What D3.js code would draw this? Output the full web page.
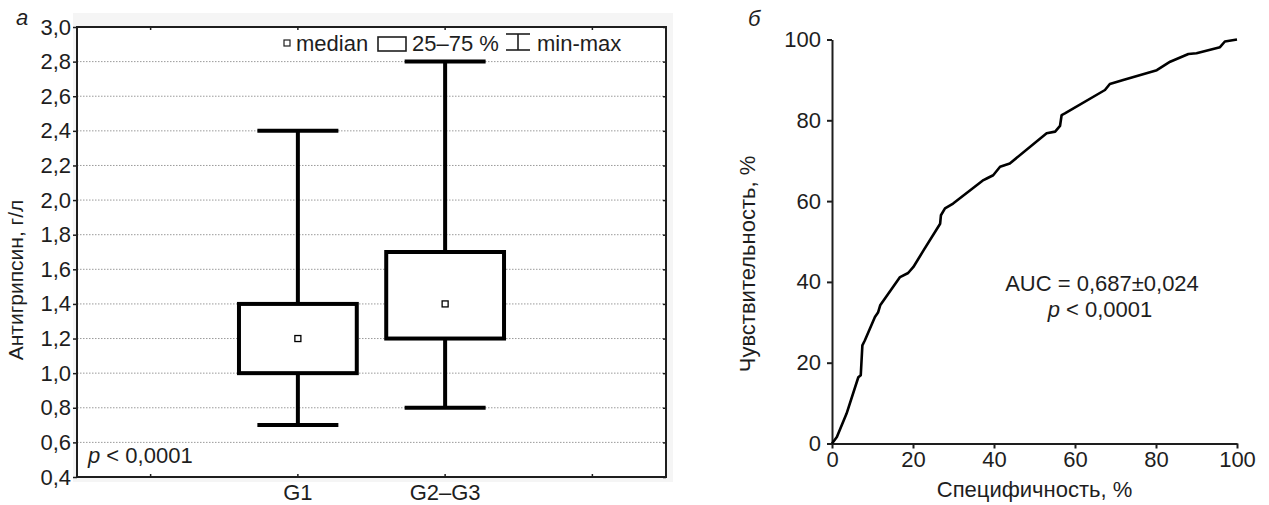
<!DOCTYPE html>
<html><head><meta charset="utf-8">
<script src="https://cdn.jsdelivr.net/npm/d3@7"></script>
<style>
body{margin:0;background:#fff;}
svg{display:block;font-family:"Liberation Sans",Arial,sans-serif;}
</style></head>
<body><svg id="c" width="1269" height="505"></svg>
<script>
// ---- Data: panel a (box plot) ----
const categories = ["G1", "G2–G3"];
const minVals    = [0.7, 0.8];
const q1Vals     = [1.0, 1.2];
const medianVals = [1.2, 1.4];
const q3Vals     = [1.4, 1.7];
const maxVals    = [2.4, 2.8];
const boxYTicks  = [0.4,0.6,0.8,1.0,1.2,1.4,1.6,1.8,2.0,2.2,2.4,2.6,2.8,3.0];
const boxYLabel  = "Антигрипсин, г/л";
const boxPText   = "0,0001";

// ---- Data: panel б (ROC curve) ----
const rocSpecificity = [0,1.2,3.6,6.5,7.1,7.5,8.1,10.6,11.4,11.9,16.8,18.8,20.1,22.6,26.7,26.9,27.9,29.9,37.4,38.2,39.8,41.5,43.9,53.0,55.1,56.3,56.7,57.5,67.4,68.6,71.9,80.2,83.5,88.0,90.0,95.8,97.0,100];
const rocSensitivity = [0,1.6,7.4,16.4,16.9,24.3,25.5,31.3,32.5,34.2,41.2,42.2,43.7,47.8,54.4,56.5,58.2,59.4,65.2,65.6,66.4,68.5,69.3,76.8,77.2,78.6,81.3,81.7,87.5,89.0,90.0,92.4,94.5,96.4,96.6,98.1,99.5,100];
const rocTicks = [0,20,40,60,80,100];
const rocXLabel = "Специфичность, %";
const rocYLabel = "Чувствительность, %";
const aucText = "AUC = 0,687±0,024";

const svg = d3.select("#c");
const ink = "#1e1e1e";
const FS = 22;
const FF = "Liberation Sans, Arial, sans-serif";
const fmt = d => d.toFixed(1).replace(".", ",");

// ================= Panel a =================
const L = {x0:77, x1:666, y0:27, y1:477};
const slots = ["s0", ...categories, "s3"];
const xb = d3.scaleBand().domain(slots).range([L.x0, L.x1]).padding(0);
const xc = d => xb(d) + xb.bandwidth()/2;
const yb = d3.scaleLinear().domain([0.4, 3.0]).range([L.y1, L.y0]);

svg.append("rect").attr("x",73).attr("y",13).attr("width",600).attr("height",469).attr("fill","#f5f5f5");
svg.append("rect").attr("x",L.x0).attr("y",L.y0).attr("width",L.x1-L.x0).attr("height",L.y1-L.y0).attr("fill","#fff");

// gridlines
svg.append("g").selectAll("line").data(boxYTicks.filter(t=>t>0.4 && t<3.0)).join("line")
  .attr("x1",L.x0).attr("x2",L.x1).attr("y1",d=>yb(d)).attr("y2",d=>yb(d))
  .attr("stroke","#9a9a9a").attr("stroke-width",1).attr("stroke-dasharray","1.5,1.5");

// left axis
const ayl = svg.append("g").attr("transform",`translate(${L.x0},0)`)
  .call(d3.axisLeft(yb).tickValues(boxYTicks).tickFormat(fmt).tickSize(4).tickPadding(2).tickSizeOuter(0));
ayl.select(".domain").remove();
ayl.selectAll("line").attr("stroke",ink).attr("stroke-width",1.5);
ayl.selectAll("text").attr("font-size",FS).attr("fill",ink).attr("font-family",FF);

// right inner ticks
const ayr = svg.append("g").attr("transform",`translate(${L.x1},0)`)
  .call(d3.axisLeft(yb).tickValues(boxYTicks).tickFormat("").tickSize(3).tickSizeOuter(0));
ayr.select(".domain").remove();
ayr.selectAll("line").attr("stroke",ink).attr("stroke-width",1.5).attr("x2",-3);

// bottom axis (ticks inward) + labels
const axb = svg.append("g").attr("transform",`translate(0,${L.y1})`)
  .call(d3.axisBottom(xb).tickFormat(d => categories.includes(d) ? d : "").tickSize(-3).tickSizeOuter(0));
axb.select(".domain").remove();
axb.selectAll("line").attr("stroke",ink).attr("stroke-width",1.5);
axb.selectAll("text").attr("font-size",FS).attr("fill",ink).attr("dy","0.71em").attr("y",7).attr("font-family",FF);
// top axis ticks inward
const axt = svg.append("g").attr("transform",`translate(0,${L.y0})`)
  .call(d3.axisTop(xb).tickFormat("").tickSize(-3).tickSizeOuter(0));
axt.select(".domain").remove();
axt.selectAll("line").attr("stroke",ink).attr("stroke-width",1.5);

// frame
svg.append("rect").attr("x",L.x0).attr("y",L.y0).attr("width",L.x1-L.x0).attr("height",L.y1-L.y0)
  .attr("fill","none").attr("stroke",ink).attr("stroke-width",2);

// boxes
const bw = xb.bandwidth();
const boxW = bw*0.80, capW = bw*0.55;
const g = svg.append("g").selectAll("g").data(categories).join("g");
g.append("line").attr("x1",d=>xc(d)).attr("x2",d=>xc(d))
  .attr("y1",(d,i)=>yb(maxVals[i])).attr("y2",(d,i)=>yb(q3Vals[i])).attr("stroke","#000").attr("stroke-width",4);
g.append("line").attr("x1",d=>xc(d)).attr("x2",d=>xc(d))
  .attr("y1",(d,i)=>yb(q1Vals[i])).attr("y2",(d,i)=>yb(minVals[i])).attr("stroke","#000").attr("stroke-width",4);
g.append("line").attr("x1",d=>xc(d)-capW/2).attr("x2",d=>xc(d)+capW/2)
  .attr("y1",(d,i)=>yb(maxVals[i])).attr("y2",(d,i)=>yb(maxVals[i])).attr("stroke","#000").attr("stroke-width",4);
g.append("line").attr("x1",d=>xc(d)-capW/2).attr("x2",d=>xc(d)+capW/2)
  .attr("y1",(d,i)=>yb(minVals[i])).attr("y2",(d,i)=>yb(minVals[i])).attr("stroke","#000").attr("stroke-width",4);
g.append("rect").attr("x",d=>xc(d)-boxW/2).attr("width",boxW)
  .attr("y",(d,i)=>yb(q3Vals[i])).attr("height",(d,i)=>yb(q1Vals[i])-yb(q3Vals[i]))
  .attr("fill","#fff").attr("stroke","#000").attr("stroke-width",4);
g.append("rect").attr("x",d=>xc(d)-3).attr("width",6)
  .attr("y",(d,i)=>yb(medianVals[i])-3).attr("height",6)
  .attr("fill","#fff").attr("stroke","#000").attr("stroke-width",1.3);

// legend
const lg = svg.append("g").attr("font-size",FS).attr("fill",ink);
lg.append("rect").attr("x",284).attr("y",40).attr("width",6).attr("height",6).attr("fill","#fff").attr("stroke",ink).attr("stroke-width",1.2);
lg.append("text").attr("x",296).attr("y",51).text("median");
lg.append("rect").attr("x",378).attr("y",37).attr("width",28).attr("height",14).attr("fill","#fff").attr("stroke",ink).attr("stroke-width",1.6);
lg.append("text").attr("x",412).attr("y",51).text("25–75 %");
lg.append("line").attr("x1",518).attr("x2",518).attr("y1",34).attr("y2",50).attr("stroke",ink).attr("stroke-width",1.6);
lg.append("line").attr("x1",506).attr("x2",530).attr("y1",34).attr("y2",34).attr("stroke",ink).attr("stroke-width",1.6);
lg.append("line").attr("x1",506).attr("x2",530).attr("y1",50).attr("y2",50).attr("stroke",ink).attr("stroke-width",1.6);
lg.append("text").attr("x",537).attr("y",51).text("min-max");

// p-value
const pt = svg.append("text").attr("x",88).attr("y",463).attr("font-size",FS).attr("fill",ink);
pt.append("tspan").attr("font-style","italic").text("p");
pt.append("tspan").text(" < " + boxPText);

// panel label a
svg.append("text").attr("x",16).attr("y",25).attr("font-size",FS).attr("font-style","italic").attr("fill",ink).text("а");
// y label
svg.append("text").attr("transform","translate(23,280) rotate(-90)").attr("text-anchor","middle")
  .attr("font-size",21).attr("fill",ink).text(boxYLabel);

// ================= Panel б =================
const xr = d3.scaleLinear().domain([0,100]).range([832,1237]);
const yr = d3.scaleLinear().domain([0,100]).range([443.5,39.5]);

const rx = svg.append("g").attr("transform",`translate(0,${yr(0)})`)
  .call(d3.axisBottom(xr).tickValues(rocTicks).tickSize(5).tickSizeOuter(0).tickPadding(3));
rx.select(".domain").attr("stroke",ink).attr("stroke-width",2);
rx.selectAll("line").attr("stroke",ink).attr("stroke-width",2);
rx.selectAll("text").attr("font-size",FS).attr("fill",ink).attr("font-family",FF);

const ry = svg.append("g").attr("transform",`translate(${xr(0)},0)`)
  .call(d3.axisLeft(yr).tickValues(rocTicks).tickSize(5).tickSizeOuter(0).tickPadding(6));
ry.select(".domain").attr("stroke",ink).attr("stroke-width",2);
ry.selectAll("line").attr("stroke",ink).attr("stroke-width",2);
ry.selectAll("text").attr("font-size",FS).attr("fill",ink).attr("font-family",FF);

const line = d3.line().x((d,i)=>xr(rocSpecificity[i])).y((d,i)=>yr(rocSensitivity[i]));
svg.append("path").datum(rocSpecificity).attr("d",line).attr("fill","none")
  .attr("stroke","#000").attr("stroke-width",2.6).attr("stroke-linejoin","round");

svg.append("text").attr("x",1102).attr("y",291).attr("text-anchor","middle").attr("font-size",FS).attr("fill",ink).text(aucText);
const p2 = svg.append("text").attr("x",1100).attr("y",317).attr("text-anchor","middle").attr("font-size",FS).attr("fill",ink);
p2.append("tspan").attr("font-style","italic").text("p");
p2.append("tspan").text(" < 0,0001");

svg.append("text").attr("x",(xr(0)+xr(100))/2).attr("y",497).attr("text-anchor","middle").attr("font-size",FS).attr("fill",ink).text(rocXLabel);
svg.append("text").attr("transform","translate(755,264) rotate(-90)").attr("text-anchor","middle")
  .attr("font-size",FS).attr("fill",ink).text(rocYLabel);
svg.append("text").attr("x",748).attr("y",26).attr("font-size",FS).attr("font-style","italic").attr("fill",ink).text("б");
</script></body></html>
